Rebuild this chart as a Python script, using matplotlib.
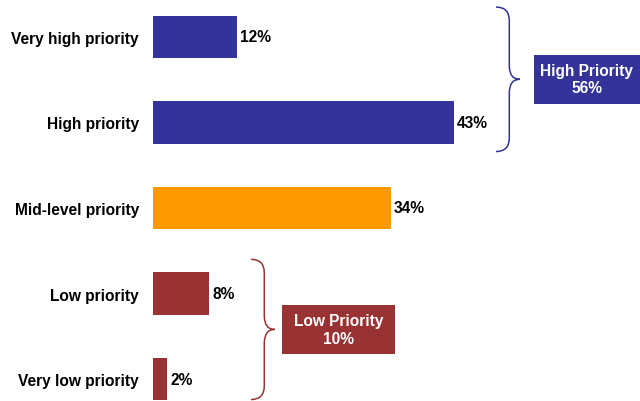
import matplotlib.pyplot as plt
from matplotlib.patches import PathPatch, Rectangle
from matplotlib.path import Path

categories = ["Very high priority", "High priority", "Mid-level priority", "Low priority", "Very low priority"]
shares = [12, 43, 34, 8, 2]
bar_colors = ["#333399", "#333399", "#ff9900", "#993333", "#993333"]

group_labels = ["High Priority", "Low Priority"]
group_totals = [56, 10]
group_members = [[0, 1], [3, 4]]
group_colors = ["#333399", "#993333"]

plt.rcParams["font.family"] = ["Liberation Sans", "DejaVu Sans"]
FS = 11.2


def draw_brace(ax, x0, y_top, y_bot, color, w1=1.9, w2=3.4, r=0.16):
    ymid = (y_top + y_bot) / 2
    verts = [
        (x0, y_top),
        (x0 + w1, y_top), (x0 + w1, y_top + r),
        (x0 + w1, ymid - r),
        (x0 + w1, ymid), (x0 + w2, ymid),
        (x0 + w1, ymid), (x0 + w1, ymid + r),
        (x0 + w1, y_bot - r),
        (x0 + w1, y_bot), (x0, y_bot),
    ]
    codes = [
        Path.MOVETO,
        Path.CURVE3, Path.CURVE3,
        Path.LINETO,
        Path.CURVE3, Path.CURVE3,
        Path.CURVE3, Path.CURVE3,
        Path.LINETO,
        Path.CURVE3, Path.CURVE3,
    ]
    ax.add_patch(PathPatch(Path(verts, codes), fill=False, edgecolor=color, lw=1.1,
                           clip_on=False))
    return ymid


fig = plt.figure(figsize=(6.4, 4.02), dpi=100)
ax = fig.add_axes([153 / 640, 0, 487 / 640, 1])

positions = list(range(len(categories)))
ax.barh(positions, shares, height=0.5, color=bar_colors)
for pos, val in zip(positions, shares):
    ax.text(val + 0.45, pos, f"{val}%", va="center", ha="left",
            fontsize=FS, fontweight="bold")

ax.set_xlim(0, 487 / 7)
ax.set_ylim(4.257, -0.444)
ax.set_yticks(positions)
ax.set_yticklabels(categories, fontsize=FS, fontweight="bold")
ax.tick_params(axis="y", length=0, pad=10)
ax.set_xticks([])
for spine in ax.spines.values():
    spine.set_visible(False)

# group braces with summary boxes
brace_spans = [(-0.35, 0.34), (-0.40, 0.24)]
box_specs = [(54.4, 69.6), (18.4, 34.6)]
for members, label, total, color, span, (bx0, bx1) in zip(
        group_members, group_labels, group_totals, group_colors, brace_spans, box_specs):
    x0 = max(shares[i] for i in members) + 6
    ymid = draw_brace(ax, x0, members[0] + span[0], members[-1] + span[1], color)
    box_h = 0.57
    ax.add_patch(Rectangle((bx0, ymid - box_h / 2), bx1 - bx0, box_h,
                           facecolor=color, edgecolor="none", clip_on=False))
    ax.text((bx0 + bx1) / 2, ymid, f"{label}\n{total}%", ha="center", va="center",
            color="white", fontsize=FS, fontweight="bold", linespacing=1.2)

fig.savefig("out.png", dpi=100)
